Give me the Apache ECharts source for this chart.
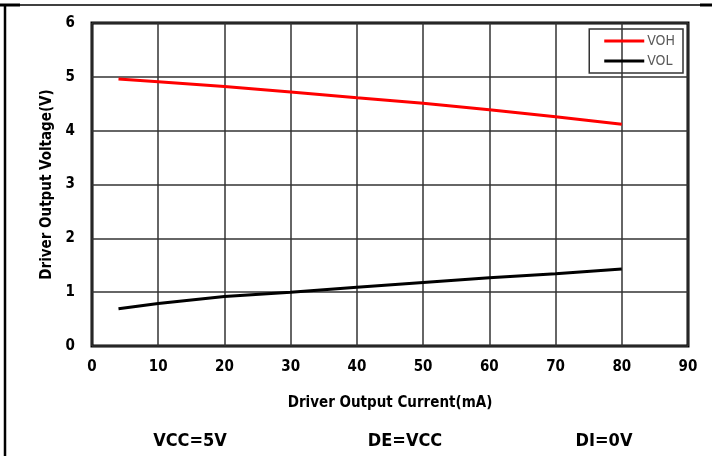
<!DOCTYPE html>
<html><head><meta charset="utf-8">
<script src="https://cdn.jsdelivr.net/npm/echarts@6/dist/echarts.min.js"></script>
<style>html,body{margin:0;padding:0;background:#fff}#c{width:715px;height:456px}</style>
</head><body><div id="c"></div>
<script>
const currents = [4, 10, 20, 30, 40, 50, 60, 70, 80];
const voh = [4.96, 4.91, 4.82, 4.72, 4.61, 4.51, 4.39, 4.26, 4.12];
const vol = [0.69, 0.79, 0.92, 1.0, 1.09, 1.18, 1.27, 1.34, 1.43];
const seriesNames = ['VOH', 'VOL'];
const conditions = ['VCC=5V', 'DE=VCC', 'DI=0V'];
const xTitle = 'Driver Output Current(mA)';
const yTitle = 'Driver Output Voltage(V)';

const FONT = "'Liberation Sans Narrow','DejaVu Sans Condensed','Open Sans',sans-serif";
const chart = echarts.init(document.getElementById('c'), null, {renderer: 'canvas'});
chart.setOption({
  animation: false,
  backgroundColor: '#fff',
  grid: {left: 92, right: 27, top: 23, bottom: 110, show: true, borderColor: '#000', borderWidth: 3},
  legend: {
    orient: 'vertical', right: 32, top: 29,
    borderColor: '#333', borderWidth: 1.5, padding: [5, 8, 5, 15],
    icon: 'rect', itemWidth: 40, itemHeight: 3, itemGap: 6,
    textStyle: {color: '#595959', fontSize: 14, fontFamily: FONT, padding: [0, 0, 0, -2]},
    data: seriesNames
  },
  xAxis: {
    type: 'value', min: 0, max: 90, interval: 10,
    name: xTitle, nameLocation: 'middle', nameGap: 50,
    nameTextStyle: {fontSize: 15, fontWeight: 'bold', color: '#000', fontFamily: FONT},
    axisLine: {show: false}, axisTick: {show: false},
    axisLabel: {fontSize: 15, fontWeight: 'bold', color: '#000', margin: 14, fontFamily: FONT},
    splitLine: {show: true, lineStyle: {color: '#333', width: 1.5}}
  },
  yAxis: {
    type: 'value', min: 0, max: 6, interval: 1,
    name: yTitle, nameLocation: 'middle', nameGap: 37, nameRotate: 90,
    nameTextStyle: {fontSize: 15, fontWeight: 'bold', color: '#000', fontFamily: FONT},
    axisLine: {show: false}, axisTick: {show: false},
    axisLabel: {fontSize: 15, fontWeight: 'bold', color: '#000', margin: 17, fontFamily: FONT},
    splitLine: {show: true, lineStyle: {color: '#333', width: 1.5}}
  },
  series: [
    {name: seriesNames[0], type: 'line', symbol: 'none', smooth: false,
     lineStyle: {color: '#ff0000', width: 3}, itemStyle: {color: '#ff0000'},
     data: currents.map((c, i) => [c, voh[i]])},
    {name: seriesNames[1], type: 'line', symbol: 'none', smooth: false,
     lineStyle: {color: '#000', width: 3}, itemStyle: {color: '#000'},
     data: currents.map((c, i) => [c, vol[i]])}
  ],
  graphic: [
    {type: 'line', shape: {x1: 0, y1: 5, x2: 712, y2: 5}, style: {stroke: '#000', lineWidth: 1.5}},
    {type: 'line', shape: {x1: 0, y1: 5, x2: 20, y2: 5}, style: {stroke: '#000', lineWidth: 3}},
    {type: 'line', shape: {x1: 700, y1: 5, x2: 712, y2: 5}, style: {stroke: '#000', lineWidth: 3}},
    {type: 'line', shape: {x1: 5, y1: 4, x2: 5, y2: 456}, style: {stroke: '#000', lineWidth: 2.5}},
    {type: 'text', x: 190, y: 441, style: {text: conditions[0], font: "bold 18px " + FONT, fill: '#000', textAlign: 'center', textVerticalAlign: 'middle'}},
    {type: 'text', x: 405, y: 441, style: {text: conditions[1], font: "bold 18px " + FONT, fill: '#000', textAlign: 'center', textVerticalAlign: 'middle'}},
    {type: 'text', x: 604, y: 441, style: {text: conditions[2], font: "bold 18px " + FONT, fill: '#000', textAlign: 'center', textVerticalAlign: 'middle'}}
  ]
});
</script></body></html>
